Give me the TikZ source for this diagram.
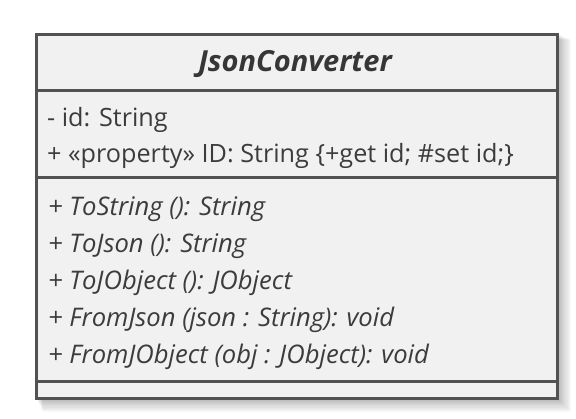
\documentclass[tikz,border=0pt]{standalone}
\usepackage{fontspec}
\setmainfont{Open Sans}
\begin{document}
\begin{tikzpicture}[x=1pt,y=-1pt,
  txt/.style={anchor=base west,inner sep=0pt,text=textgray,font=\fontsize{25.2}{28}\selectfont},
  mtxt/.style={txt,font=\fontsize{25.6}{28}\selectfont\itshape},
  sep/.style={draw=bordergray,line width=3pt},
  boxstyle/.style={draw=bordergray,line width=3pt,fill=boxfill,inner sep=0pt}]
\definecolor{bordergray}{HTML}{525252}
\definecolor{boxfill}{HTML}{F1F1F1}
\definecolor{textgray}{HTML}{3C3C3C}
\useasboundingbox (0,0) rectangle (576,418);
\fill[white] (0,0) rectangle (576,418);
% soft shadow
\foreach \i in {1,...,14}{
  \fill[black,opacity=0.022] (34.5+\i*0.6,32.7+\i*0.5) rectangle (555.5+\i*1.1,396.5+\i*1.1);
}
\node[boxstyle,minimum width=521pt,minimum height=363.8pt,anchor=north west] (cls) at (34.5,32.7) {};
\coordinate (s1l) at (34.5,90.7); \coordinate (s1r) at (555.5,90.7);
\coordinate (s2l) at (34.5,177.7); \coordinate (s2r) at (555.5,177.7);
\coordinate (s3l) at (34.5,381); \coordinate (s3r) at (555.5,381);
\draw[sep] (s1l) -- (s1r);
\draw[sep] (s2l) -- (s2r);
\draw[sep] (s3l) -- (s3r);
\node[anchor=base,inner sep=0pt,text=textgray!90!black,font=\fontsize{29}{32}\selectfont\bfseries\itshape] (title) at (295,71.7) {JsonConverter};
\node[txt] (a1) at (47,126) {- id: String};
\node[txt] (a2) at (47,162.5) {+ «property» ID: String \{+get id; \#set id;\}};
\node[mtxt] (m1) at (48,215) {+ ToString (): String};
\node[mtxt] (m2) at (48,252) {+ ToJson (): String};
\node[mtxt] (m3) at (48,289) {+ ToJObject (): JObject};
\node[mtxt] (m4) at (48,326) {+ FromJson (json : String): void};
\node[mtxt] (m5) at (48,363) {+ FromJObject (obj : JObject): void};
\end{tikzpicture}
\end{document}
